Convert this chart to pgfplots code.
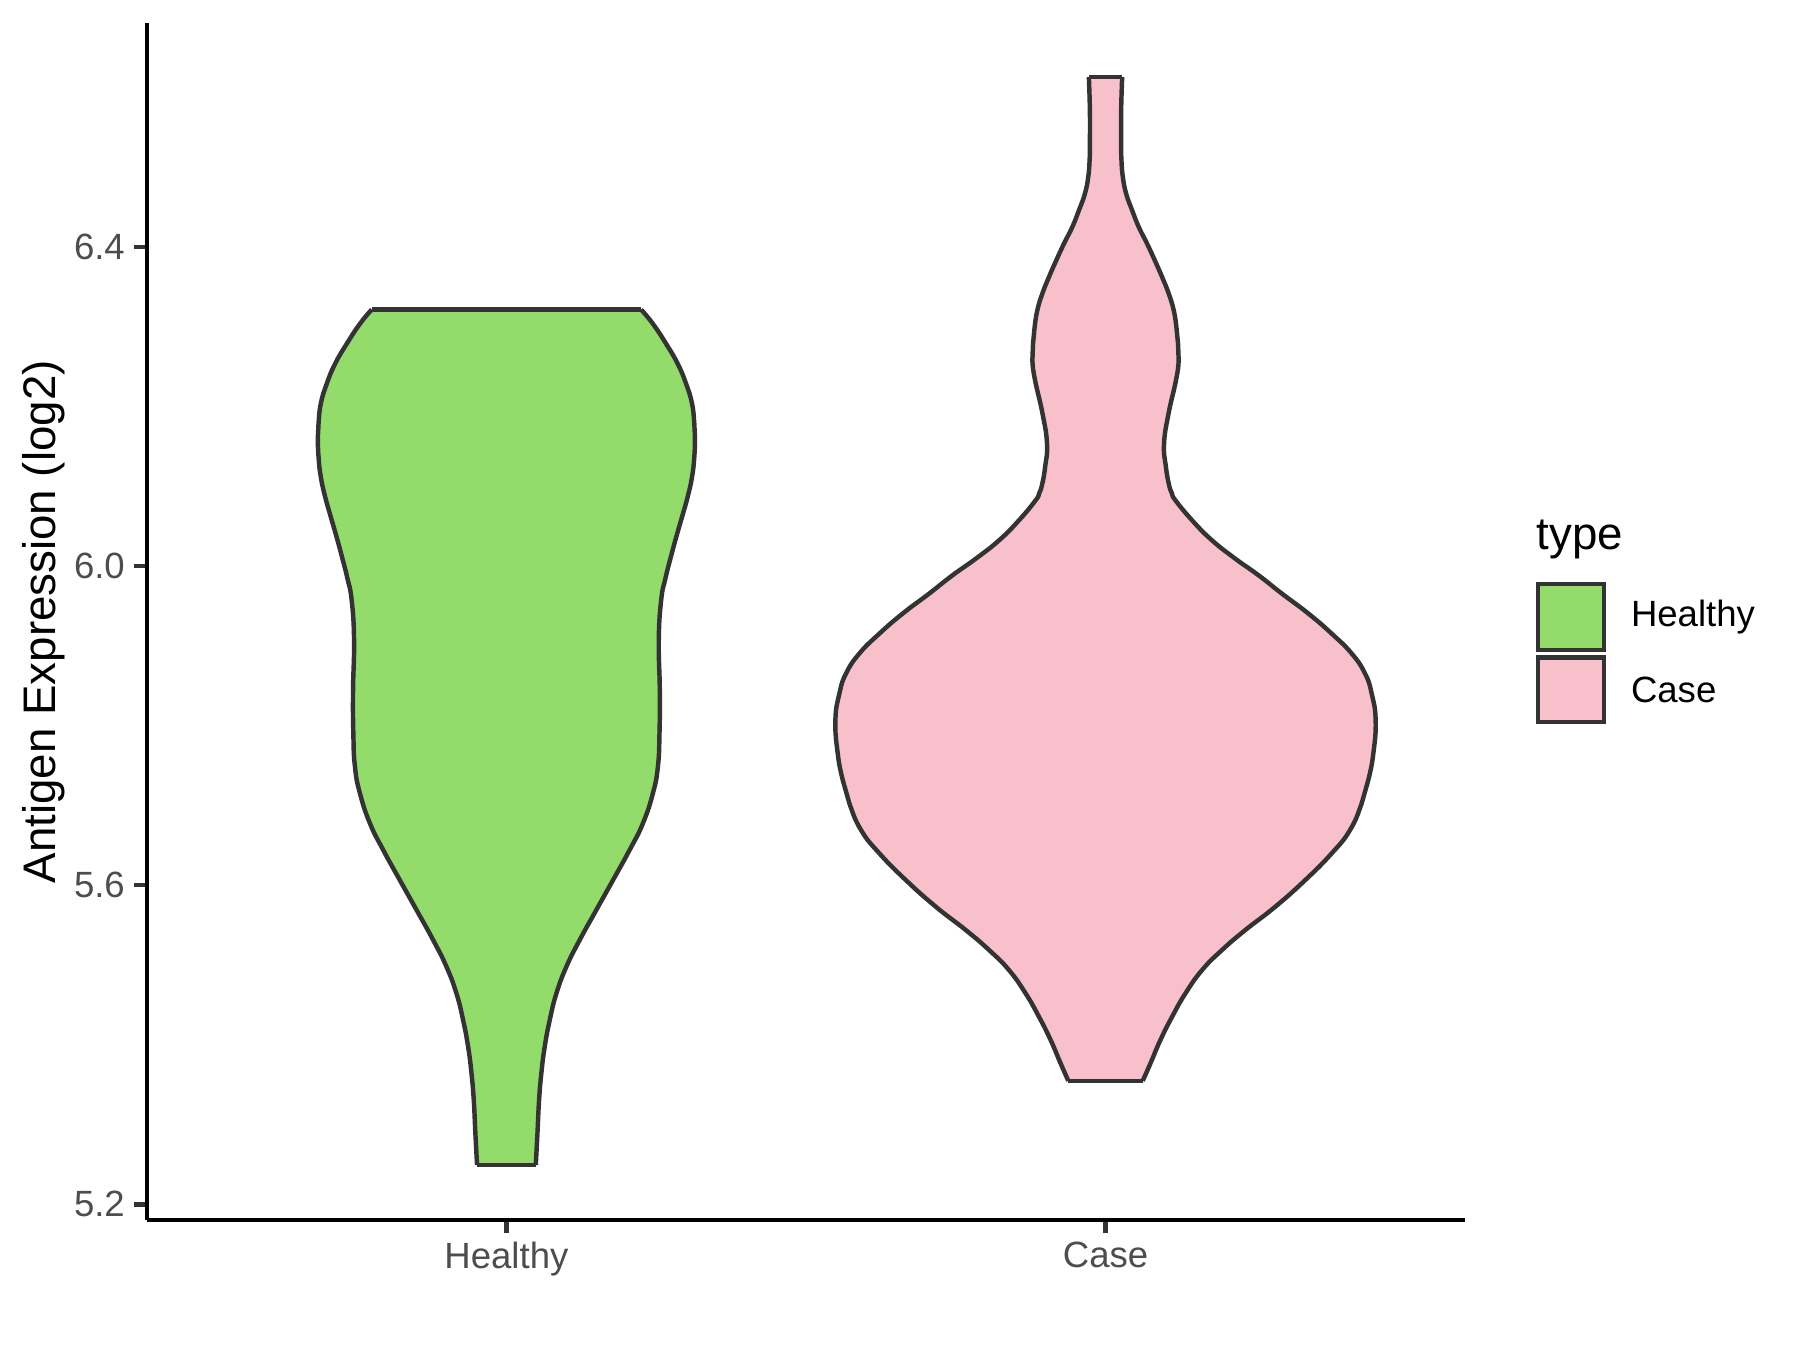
\documentclass[border=0pt]{standalone}
\usepackage{fontspec}
\setmainfont{Liberation Sans}
\usepackage{pgfplots}
\pgfplotsset{compat=1.18}

\definecolor{healthy}{HTML}{93DC6B}
\definecolor{case}{HTML}{F7C0CB}
\definecolor{edge}{HTML}{333333}
\definecolor{ticktxt}{HTML}{4D4D4D}

\pgfplotsset{
  vfill/.style={draw=none, fill=#1, forget plot},
  vline/.style={draw=edge, line width=1.07pt, line join=round, smooth, tension=0.8, forget plot},
  vedge/.style={draw=edge, line width=1.07pt, line join=round, forget plot},
}

\begin{document}
\begin{tikzpicture}
\begin{axis}[
    scale only axis,
    width=317.5pt, height=288.4pt,
    xmin=0.4, xmax=2.6,
    ymin=5.18, ymax=6.681,
    axis lines=left,
    axis line style={-, line width=1.07pt, black},
    xtick={1,2},
    xticklabels={Healthy,Case},
    ytick={5.2,5.6,6.0,6.4},
    xticklabel style={yshift=1.4pt},
    yticklabel style={xshift=1.2pt, /pgf/number format/.cd, fixed, fixed zerofill, precision=1},
    /pgf/number format/assume math mode=true,
    tick align=outside,
    major tick length=3pt,
    tick style={edge, line width=1.07pt},
    ticklabel style={font=\fontsize{8.8}{10}\selectfont, text=ticktxt},
    ylabel={Antigen Expression (log2)},
    ylabel style={font=\fontsize{11}{13}\selectfont, at={(axis description cs:-0.0785,0.5)}, anchor=center},
    clip=false,
]
% ---- Healthy (x = 1 +/- half width) ----
\addplot[vfill=healthy] coordinates {
 (1.0490,5.2492) (1.0518,5.2889) (1.0545,5.3306) (1.0583,5.3642) (1.0639,5.3974)
 (1.0723,5.4309) (1.0834,5.4643) (1.1000,5.4977) (1.1222,5.5312) (1.1499,5.5688)
 (1.1778,5.6063) (1.2055,5.6440) (1.2277,5.6774) (1.2444,5.7150) (1.2528,5.7485)
 (1.2555,5.7902) (1.2560,5.8446) (1.2543,5.9072) (1.2583,5.9574) (1.2655,5.9850)
 (1.2745,6.0117) (1.2835,6.0367)
 (1.2931,6.0617) (1.3025,6.0868) (1.3098,6.1119) (1.3136,6.1370) (1.3147,6.1620)
 (1.3136,6.1788) (1.3098,6.2039) (1.2998,6.2289) (1.2858,6.2540) (1.2664,6.2790)
 (1.2442,6.3042) (1.2248,6.3217)
 (0.7752,6.3217) (0.7558,6.3042) (0.7336,6.2790) (0.7142,6.2540) (0.7002,6.2289)
 (0.6902,6.2039) (0.6864,6.1788) (0.6853,6.1620) (0.6864,6.1370) (0.6902,6.1119)
 (0.6975,6.0868) (0.7069,6.0617) (0.7165,6.0367) (0.7255,6.0117) (0.7345,5.9850)
 (0.7417,5.9574) (0.7457,5.9072)
 (0.7440,5.8446) (0.7445,5.7902) (0.7472,5.7485) (0.7556,5.7150) (0.7723,5.6774)
 (0.7945,5.6440) (0.8222,5.6063) (0.8501,5.5688) (0.8778,5.5312) (0.9000,5.4977)
 (0.9166,5.4643) (0.9277,5.4309) (0.9361,5.3974) (0.9417,5.3642) (0.9455,5.3306)
 (0.9482,5.2889) (0.9510,5.2492)
} -- cycle;
\addplot[vline] coordinates {
 (1.0490,5.2492) (1.0518,5.2889) (1.0545,5.3306) (1.0583,5.3642) (1.0639,5.3974)
 (1.0723,5.4309) (1.0834,5.4643) (1.1000,5.4977) (1.1222,5.5312) (1.1499,5.5688)
 (1.1778,5.6063) (1.2055,5.6440) (1.2277,5.6774) (1.2444,5.7150) (1.2528,5.7485)
 (1.2555,5.7902) (1.2560,5.8446) (1.2543,5.9072) (1.2583,5.9574) (1.2655,5.9850)
 (1.2745,6.0117) (1.2835,6.0367)
 (1.2931,6.0617) (1.3025,6.0868) (1.3098,6.1119) (1.3136,6.1370) (1.3147,6.1620)
 (1.3136,6.1788) (1.3098,6.2039) (1.2998,6.2289) (1.2858,6.2540) (1.2664,6.2790)
 (1.2442,6.3042) (1.2248,6.3217)
};
\addplot[vline] coordinates {
 (0.7752,6.3217) (0.7558,6.3042) (0.7336,6.2790) (0.7142,6.2540) (0.7002,6.2289)
 (0.6902,6.2039) (0.6864,6.1788) (0.6853,6.1620) (0.6864,6.1370) (0.6902,6.1119)
 (0.6975,6.0868) (0.7069,6.0617) (0.7165,6.0367) (0.7255,6.0117) (0.7345,5.9850)
 (0.7417,5.9574) (0.7457,5.9072)
 (0.7440,5.8446) (0.7445,5.7902) (0.7472,5.7485) (0.7556,5.7150) (0.7723,5.6774)
 (0.7945,5.6440) (0.8222,5.6063) (0.8501,5.5688) (0.8778,5.5312) (0.9000,5.4977)
 (0.9166,5.4643) (0.9277,5.4309) (0.9361,5.3974) (0.9417,5.3642) (0.9455,5.3306)
 (0.9482,5.2889) (0.9510,5.2492)
};
\addplot[vedge] coordinates {(0.7752,6.3217) (1.2248,6.3217)};
\addplot[vedge] coordinates {(0.9510,5.2492) (1.0490,5.2492)};
% ---- Case (x = 2 +/- half width) ----
\addplot[vfill=case] coordinates {
 (2.0621,5.3548) (2.0750,5.3767) (2.0916,5.4059) (2.1111,5.4351) (2.1333,5.4643)
 (2.1610,5.4935) (2.1943,5.5187) (2.2331,5.5437) (2.2832,5.5730) (2.3331,5.6063)
 (2.3774,5.6399) (2.4080,5.6691) (2.4275,5.7025) (2.4386,5.7318) (2.4470,5.7652)
 (2.4509,5.8069) (2.4442,5.8404) (2.4331,5.8655) (2.4109,5.8905) (2.3774,5.9155)
 (2.3386,5.9406) (2.2943,5.9657) (2.2554,5.9886) (2.2164,6.0095) (2.1776,6.0325)
 (2.1444,6.0576) (2.1166,6.0827) (2.1110,6.0910) (2.1060,6.1020) (2.1008,6.1245) (2.0977,6.1537)
 (2.1052,6.1914) (2.1176,6.2331) (2.1221,6.2581) (2.1210,6.2791) (2.1183,6.2999)
 (2.1138,6.3209) (2.1055,6.3417) (2.0944,6.3626) (2.0822,6.3835) (2.0694,6.4043)
 (2.0555,6.4252) (2.0444,6.4462) (2.0344,6.4671) (2.0289,6.4879) (2.0266,6.5088)
 (2.0261,6.5297) (2.0261,6.5715) (2.0278,6.6132)
 (1.9722,6.6132) (1.9739,6.5715) (1.9739,6.5297) (1.9734,6.5088) (1.9711,6.4879)
 (1.9656,6.4671) (1.9556,6.4462) (1.9445,6.4252) (1.9306,6.4043) (1.9178,6.3835)
 (1.9056,6.3626) (1.8945,6.3417) (1.8862,6.3209) (1.8817,6.2999) (1.8790,6.2791)
 (1.8779,6.2581) (1.8824,6.2331) (1.8948,6.1914) (1.9023,6.1537) (1.8992,6.1245)
 (1.8940,6.1020) (1.8890,6.0910) (1.8834,6.0827) (1.8556,6.0576) (1.8224,6.0325) (1.7836,6.0095)
 (1.7446,5.9886) (1.7057,5.9657) (1.6614,5.9406) (1.6226,5.9155) (1.5891,5.8905)
 (1.5669,5.8655) (1.5558,5.8404) (1.5491,5.8069) (1.5530,5.7652) (1.5614,5.7318)
 (1.5725,5.7025) (1.5920,5.6691) (1.6226,5.6399) (1.6669,5.6063) (1.7168,5.5730)
 (1.7669,5.5437) (1.8057,5.5187) (1.8390,5.4935) (1.8667,5.4643) (1.8889,5.4351)
 (1.9084,5.4059) (1.9250,5.3767) (1.9379,5.3548)
} -- cycle;
\addplot[vline] coordinates {
 (2.0621,5.3548) (2.0750,5.3767) (2.0916,5.4059) (2.1111,5.4351) (2.1333,5.4643)
 (2.1610,5.4935) (2.1943,5.5187) (2.2331,5.5437) (2.2832,5.5730) (2.3331,5.6063)
 (2.3774,5.6399) (2.4080,5.6691) (2.4275,5.7025) (2.4386,5.7318) (2.4470,5.7652)
 (2.4509,5.8069) (2.4442,5.8404) (2.4331,5.8655) (2.4109,5.8905) (2.3774,5.9155)
 (2.3386,5.9406) (2.2943,5.9657) (2.2554,5.9886) (2.2164,6.0095) (2.1776,6.0325)
 (2.1444,6.0576) (2.1166,6.0827) (2.1110,6.0910) (2.1060,6.1020) (2.1008,6.1245) (2.0977,6.1537)
 (2.1052,6.1914) (2.1176,6.2331) (2.1221,6.2581) (2.1210,6.2791) (2.1183,6.2999)
 (2.1138,6.3209) (2.1055,6.3417) (2.0944,6.3626) (2.0822,6.3835) (2.0694,6.4043)
 (2.0555,6.4252) (2.0444,6.4462) (2.0344,6.4671) (2.0289,6.4879) (2.0266,6.5088)
 (2.0261,6.5297) (2.0261,6.5715) (2.0278,6.6132)
};
\addplot[vline] coordinates {
 (1.9722,6.6132) (1.9739,6.5715) (1.9739,6.5297) (1.9734,6.5088) (1.9711,6.4879)
 (1.9656,6.4671) (1.9556,6.4462) (1.9445,6.4252) (1.9306,6.4043) (1.9178,6.3835)
 (1.9056,6.3626) (1.8945,6.3417) (1.8862,6.3209) (1.8817,6.2999) (1.8790,6.2791)
 (1.8779,6.2581) (1.8824,6.2331) (1.8948,6.1914) (1.9023,6.1537) (1.8992,6.1245)
 (1.8940,6.1020) (1.8890,6.0910) (1.8834,6.0827) (1.8556,6.0576) (1.8224,6.0325) (1.7836,6.0095)
 (1.7446,5.9886) (1.7057,5.9657) (1.6614,5.9406) (1.6226,5.9155) (1.5891,5.8905)
 (1.5669,5.8655) (1.5558,5.8404) (1.5491,5.8069) (1.5530,5.7652) (1.5614,5.7318)
 (1.5725,5.7025) (1.5920,5.6691) (1.6226,5.6399) (1.6669,5.6063) (1.7168,5.5730)
 (1.7669,5.5437) (1.8057,5.5187) (1.8390,5.4935) (1.8667,5.4643) (1.8889,5.4351)
 (1.9084,5.4059) (1.9250,5.3767) (1.9379,5.3548)
};
\addplot[vedge] coordinates {(1.9722,6.6132) (2.0278,6.6132)};
\addplot[vedge] coordinates {(1.9379,5.3548) (2.0621,5.3548)};
\end{axis}
% legend
\begin{scope}[shift={(current axis.south west)}]
\node[anchor=west, inner sep=0pt, font=\fontsize{11}{13}\selectfont] at (334.6pt,163.9pt) {type};
\draw[fill=healthy, draw=edge, line width=1.07pt] (335.1pt,137.3pt) rectangle (351.0pt,153.2pt);
\draw[fill=case, draw=edge, line width=1.07pt] (335.1pt,120.0pt) rectangle (351.0pt,135.6pt);
\node[anchor=west, inner sep=0pt, font=\fontsize{8.8}{10}\selectfont] at (357.3pt,145.3pt) {Healthy};
\node[anchor=west, inner sep=0pt, font=\fontsize{8.8}{10}\selectfont] at (357.3pt,127.8pt) {Case};
\end{scope}
\pgfresetboundingbox
\useasboundingbox ([shift={(-35.4pt,-31.3pt)}]current axis.south west) rectangle ([shift={(80.7pt,5.54pt)}]current axis.north east);
\end{tikzpicture}
\end{document}
